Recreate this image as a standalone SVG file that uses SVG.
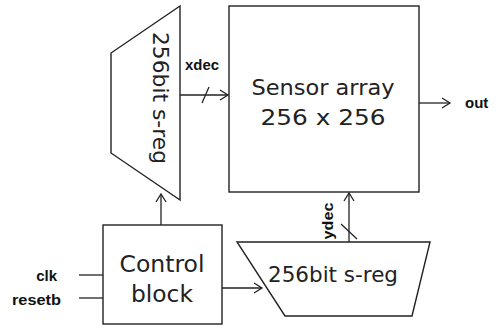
<svg xmlns="http://www.w3.org/2000/svg" width="497" height="328" viewBox="0 0 497 328">
<style>
.s{fill:#fff;stroke:#222;stroke-width:1.4}
.l{fill:none;stroke:#222;stroke-width:1.3}
.t{font-family:"DejaVu Sans",sans-serif;font-size:21px;fill:#222;text-anchor:middle}
.b{font-family:"Liberation Sans",Arial,sans-serif;font-weight:bold;font-size:15px;fill:#111}
</style>
<defs>
<marker id="a" markerWidth="12" markerHeight="12" refX="10" refY="6" orient="auto" markerUnits="userSpaceOnUse">
<path d="M2,1 L10,6 L2,11" fill="none" stroke="#222" stroke-width="1.3"/>
</marker>
</defs>
<rect width="497" height="328" fill="#fff"/>
<g id="xreg">
<polygon class="s" points="180,6 111,53 111,153 180,200"/>
<text class="t" transform="translate(153,98) rotate(90)" textLength="132" lengthAdjust="spacingAndGlyphs">256bit s-reg</text>
</g>
<g id="sensor">
<rect class="s" x="229" y="6" width="190" height="186"/>
<text class="t" x="323" y="95" textLength="143" lengthAdjust="spacingAndGlyphs">Sensor array</text>
<text class="t" x="323" y="125" textLength="125" lengthAdjust="spacingAndGlyphs">256 x 256</text>
</g>
<g id="control">
<rect class="s" x="103" y="225" width="119" height="99"/>
<text class="t" x="162" y="272" style="font-size:23px" textLength="85" lengthAdjust="spacingAndGlyphs">Control</text>
<text class="t" x="162" y="302" style="font-size:23px" textLength="62" lengthAdjust="spacingAndGlyphs">block</text>
</g>
<g id="yreg">
<polygon class="s" points="237,242 430,242 412,316 285,316"/>
<text class="t" x="333" y="282" textLength="130" lengthAdjust="spacingAndGlyphs">256bit s-reg</text>
</g>
<g id="labels">
<text class="b" x="185" y="70" textLength="34" lengthAdjust="spacingAndGlyphs">xdec</text>
<text class="b" x="465" y="108">out</text>
<text class="b" x="57" y="281" text-anchor="end">clk</text>
<text class="b" x="61" y="305" text-anchor="end" textLength="49" lengthAdjust="spacingAndGlyphs">resetb</text>
<text class="b" transform="translate(333,221) rotate(-90)" text-anchor="middle" textLength="37" lengthAdjust="spacingAndGlyphs">ydec</text>
</g>
<g id="connectors">
<line class="l" x1="180" y1="95" x2="228" y2="95" marker-end="url(#a)"/>
<line class="l" x1="202" y1="103" x2="209" y2="87"/>
<line class="l" x1="419" y1="103" x2="450" y2="103" marker-end="url(#a)"/>
<line class="l" x1="161" y1="225" x2="161" y2="194" marker-end="url(#a)"/>
<line class="l" x1="222" y1="288" x2="262" y2="288" marker-end="url(#a)"/>
<line class="l" x1="349" y1="242" x2="349" y2="193" marker-end="url(#a)"/>
<line class="l" x1="341" y1="224" x2="357" y2="239"/>
<line class="l" x1="79" y1="275" x2="103" y2="275"/>
<line class="l" x1="79" y1="298" x2="103" y2="298"/>
</g>
</svg>
